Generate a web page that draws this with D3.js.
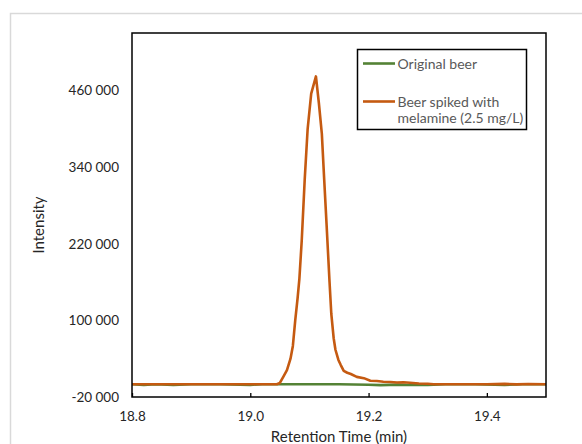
<!DOCTYPE html>
<html><head><meta charset="utf-8">
<script src="https://cdn.jsdelivr.net/npm/d3@7"></script>
<style>body{margin:0;background:#fff;}svg{display:block;font-family:Lato,"Open Sans",sans-serif;}</style>
</head><body>
<svg id="chart" width="582" height="444"></svg>
<script>
// ---- data ----
const xTicks = [18.8, 19.0, 19.2, 19.4];
const yTicks = [-20000, 100000, 220000, 340000, 460000];
const seriesNames = ["Original beer", "Beer spiked with melamine (2.5 mg/L)"];

const timeOriginal = [18.80, 18.82, 18.84, 18.87, 18.90, 18.95, 19.00, 19.02, 19.05, 19.10, 19.15, 19.20, 19.22, 19.25, 19.27, 19.30, 19.33, 19.38, 19.43, 19.46, 19.50];
const intensityOriginal = [0, -1200, 0, -1300, 0, 0, -1000, 0, 0, 0, 0, -900, -1400, -600, -1300, -1200, 0, 0, -1000, 0, 0];

const timeSpiked = [18.80, 18.85, 18.90, 18.95, 19.00, 19.045, 19.050, 19.056, 19.062, 19.068, 19.072, 19.076, 19.080, 19.083, 19.087, 19.092, 19.097, 19.103, 19.111, 19.116, 19.121, 19.125, 19.129, 19.134, 19.137, 19.141, 19.144, 19.149, 19.153, 19.158, 19.164, 19.170, 19.180, 19.192, 19.203, 19.214, 19.225, 19.237, 19.248, 19.259, 19.270, 19.285, 19.300, 19.310, 19.35, 19.40, 19.43, 19.45, 19.47, 19.50];
const intensitySpiked = [0, 0, 0, 0, 0, 0, 2000, 12000, 22000, 40000, 60000, 100000, 135000, 165000, 225000, 320000, 400000, 455000, 482000, 440000, 392000, 320000, 250000, 160000, 110000, 72000, 54000, 38000, 30000, 21000, 18000, 16000, 11500, 9500, 5500, 5000, 4000, 3500, 2800, 3200, 2300, 1200, 700, 0, 0, 0, 600, -300, 400, 0];

// ---- layout ----
const svg = d3.select("#chart");
const L = 132, R = 546, T = 33, B = 397;
const x = d3.scaleLinear().domain([18.8, 19.5]).range([L, R]);
const y = d3.scaleLinear().domain([-20000, 550000]).range([B, T]);
const colors = ["#548235", "#C55A11"];

// outer chart border
svg.append("rect").attr("x", 10.5).attr("y", 13.5).attr("width", 600).attr("height", 500)
  .attr("fill", "#fff").attr("stroke", "#d9d9d9").attr("stroke-width", 1.5);

// clip
svg.append("clipPath").attr("id", "clip").append("rect")
  .attr("x", L).attr("y", T).attr("width", R - L).attr("height", B - T);

const line = d3.line().x(d => x(d[0])).y(d => y(d[1]));
const series = [
  d3.zip(timeOriginal, intensityOriginal),
  d3.zip(timeSpiked, intensitySpiked)
];
const g = svg.append("g").attr("clip-path", "url(#clip)");
series.forEach((s, i) => {
  g.append("path").datum(s).attr("d", line).attr("fill", "none")
    .attr("stroke", colors[i]).attr("stroke-width", 2.6).attr("stroke-linejoin", "round");
});

// x axis (inside ticks)
const xAxis = d3.axisBottom(x).tickValues(xTicks).tickFormat(d3.format(".1f")).tickSizeInner(-4).tickSizeOuter(0).tickPadding(14);
const gx = svg.append("g").attr("transform", `translate(0,${B})`).call(xAxis);
gx.select(".domain").remove();
gx.selectAll(".tick line").attr("stroke", "#000").attr("stroke-width", 1.3);
gx.selectAll("text").attr("fill", "#262626").attr("font-size", 13.5).attr("font-family", "Lato");

// y axis (no ticks)
const yFmt = d => d3.format(",")(d).replace(/,/g, " ").replace("\u2212", "-");
const yAxis = d3.axisLeft(y).tickValues(yTicks).tickFormat(yFmt).tickSize(0).tickPadding(13);
const gy = svg.append("g").attr("transform", `translate(${L},0)`).call(yAxis);
gy.select(".domain").remove();
gy.selectAll("text").attr("fill", "#262626").attr("font-size", 13.5).attr("font-family", "Lato");

// plot frame
svg.append("rect").attr("x", L).attr("y", T).attr("width", R - L).attr("height", B - T)
  .attr("fill", "none").attr("stroke", "#000").attr("stroke-width", 1.5);

// axis titles
svg.append("text").attr("x", (L + R) / 2).attr("y", 442).attr("text-anchor", "middle")
  .attr("font-size", 15).attr("fill", "#262626").text("Retention Time (min)");
svg.append("text").attr("transform", `translate(44,${(T + B) / 2 + 10}) rotate(-90)`).attr("text-anchor", "middle")
  .attr("font-size", 15).attr("fill", "#262626").text("Intensity");

// legend
const lg = svg.append("g");
lg.append("rect").attr("x", 357.5).attr("y", 49.5).attr("width", 169).attr("height", 80)
  .attr("fill", "#fff").attr("stroke", "#000").attr("stroke-width", 1.5);
const legendRows = [
  {lines: [seriesNames[0]], y: 63.5},
  {lines: ["Beer spiked with", "melamine (2.5 mg/L)"], y: 101.5}
];
legendRows.forEach((r, i) => {
  lg.append("line").attr("x1", 363).attr("x2", 395).attr("y1", r.y).attr("y2", r.y)
    .attr("stroke", colors[i]).attr("stroke-width", 2.6);
  r.lines.forEach((t, j) => {
    lg.append("text").attr("x", 397.5).attr("y", r.y + 5 + j * 16.5)
      .attr("font-size", 14).attr("fill", "#595959").text(t);
  });
});
</script>
</body></html>
